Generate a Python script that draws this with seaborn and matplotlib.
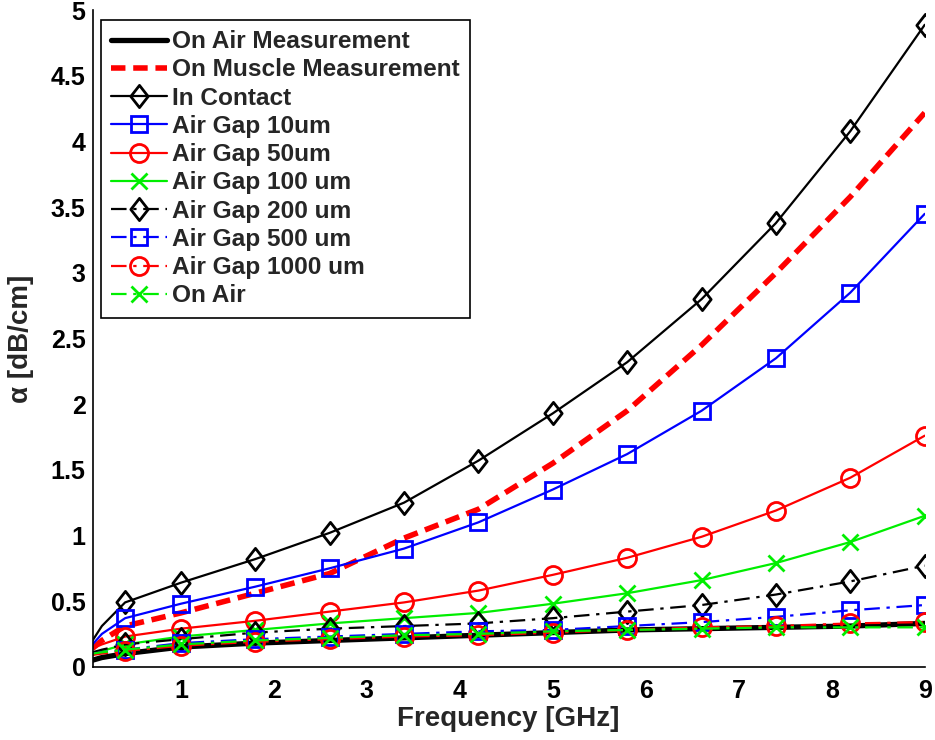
import numpy as np
import pandas as pd
import matplotlib
matplotlib.use("Agg")
import matplotlib.pyplot as plt
import seaborn as sns
from matplotlib.path import Path

# ---------------- data ----------------
freq = [0.05, 0.15, 0.4, 1.0, 1.8, 2.6, 3.4, 4.2, 5.0, 5.8, 6.6, 7.4, 8.2, 9.0]

on_air_meas = [0.05, 0.07, 0.10, 0.15, 0.18, 0.20, 0.22, 0.24, 0.26, 0.28, 0.29, 0.30, 0.31, 0.33]
on_muscle_meas = [0.14, 0.20, 0.31, 0.41, 0.56, 0.71, 0.98, 1.20, 1.55, 1.95, 2.45, 3.00, 3.58, 4.22]
in_contact = [0.20, 0.31, 0.49, 0.64, 0.82, 1.02, 1.25, 1.57, 1.93, 2.32, 2.80, 3.38, 4.08, 4.89]
gap_10 = [0.17, 0.25, 0.37, 0.48, 0.61, 0.75, 0.90, 1.10, 1.35, 1.62, 1.95, 2.35, 2.85, 3.45]
gap_50 = [0.14, 0.17, 0.23, 0.29, 0.35, 0.42, 0.49, 0.58, 0.70, 0.83, 0.99, 1.19, 1.44, 1.76]
gap_100 = [0.09, 0.12, 0.17, 0.23, 0.28, 0.33, 0.37, 0.41, 0.48, 0.56, 0.66, 0.79, 0.95, 1.15]
gap_200 = [0.11, 0.13, 0.17, 0.21, 0.26, 0.29, 0.31, 0.33, 0.37, 0.42, 0.47, 0.55, 0.65, 0.77]
gap_500 = [0.10, 0.11, 0.13, 0.18, 0.21, 0.23, 0.25, 0.27, 0.28, 0.31, 0.34, 0.38, 0.43, 0.47]
gap_1000 = [0.09, 0.10, 0.12, 0.16, 0.19, 0.21, 0.23, 0.24, 0.26, 0.28, 0.30, 0.31, 0.33, 0.34]
on_air = [0.10, 0.11, 0.13, 0.17, 0.20, 0.22, 0.24, 0.25, 0.27, 0.28, 0.29, 0.30, 0.30, 0.30]

labels = ["On Air Measurement", "On Muscle Measurement", "In Contact",
          "Air Gap 10um", "Air Gap 50um", "Air Gap 100 um", "Air Gap 200 um",
          "Air Gap 500 um", "Air Gap 1000 um", "On Air"]
x_ticks = [1, 2, 3, 4, 5, 6, 7, 8, 9]
y_ticks = [0, 0.5, 1, 1.5, 2, 2.5, 3, 3.5, 4, 4.5, 5]
y_tick_labels = ["0", "0.5", "1", "1.5", "2", "2.5", "3", "3.5", "4", "4.5", "5"]

series = [on_air_meas, on_muscle_meas, in_contact, gap_10, gap_50, gap_100,
          gap_200, gap_500, gap_1000, on_air]

# ---------------- style ----------------
sns.set_theme(style="white")
plt.rcParams['font.family'] = ['Liberation Sans', 'DejaVu Sans']
plt.rcParams['font.weight'] = 'bold'

diamond = Path([(0, 1), (0.78, 0), (0, -1), (-0.78, 0), (0, 1)],
               [Path.MOVETO, Path.LINETO, Path.LINETO, Path.LINETO, Path.CLOSEPOLY])

dashdot = (0, (7, 3, 1.5, 3))
styles = [
    dict(color="black", ls="-", lw=3.8, marker=None, ms=0),
    dict(color="#ff0000", ls=(0, (2.6, 1.4)), lw=4.0, marker=None, ms=0),
    dict(color="black", ls="-", lw=1.6, marker=diamond, ms=16),
    dict(color="#0000ff", ls="-", lw=1.6, marker="s", ms=11),
    dict(color="#ff0000", ls="-", lw=1.6, marker="o", ms=13),
    dict(color="#00ee00", ls="-", lw=1.6, marker="x", ms=11),
    dict(color="black", ls=dashdot, lw=1.6, marker=diamond, ms=16),
    dict(color="#0000ff", ls=dashdot, lw=1.6, marker="s", ms=11),
    dict(color="#ff0000", ls=dashdot, lw=1.6, marker="o", ms=13),
    dict(color="#00ee00", ls=dashdot, lw=1.6, marker="x", ms=11),
]

fig = plt.figure(figsize=(9.35, 7.4), dpi=100)
ax = fig.add_axes([0.099, 0.099, 0.890, 0.887])

for vals, lab, st in zip(series, labels, styles):
    df = pd.DataFrame({"freq": freq, "alpha": vals})
    kw = dict(color=st["color"], linestyle=st["ls"], linewidth=st["lw"], label=lab)
    if st["marker"] is not None:
        kw.update(marker=st["marker"], markersize=st["ms"], markerfacecolor="none",
                  markeredgecolor=st["color"], markeredgewidth=2.0,
                  markevery=list(range(2, len(freq))))
    sns.lineplot(data=df, x="freq", y="alpha", ax=ax, sort=False,
                 estimator=None, legend=False, **kw)

ax.set_xlim(0.05, 9.0)
ax.set_ylim(0, 5)
ax.set_xticks(x_ticks)
ax.set_xticklabels([str(t) for t in x_ticks])
ax.set_yticks(y_ticks)
ax.set_yticklabels(y_tick_labels)
for lbl in ax.get_xticklabels() + ax.get_yticklabels():
    lbl.set_fontweight("bold")
    lbl.set_fontsize(18)
ax.tick_params(direction="in", length=6, width=1, colors="black")
ax.tick_params(axis="y", pad=5)
ax.tick_params(axis="x", pad=9)
for s in ["top", "right"]:
    ax.spines[s].set_visible(False)
for s in ["left", "bottom"]:
    ax.spines[s].set_color("black")
    ax.spines[s].set_linewidth(1.2)

ax.set_xlabel("Frequency [GHz]", fontsize=20, fontweight="bold", labelpad=2)
ax.set_ylabel("α [dB/cm]", fontsize=20, fontweight="bold", labelpad=12)

leg = ax.legend(loc="upper left", bbox_to_anchor=(0.004, 0.993),
                prop=dict(size=17.6, weight="bold"),
                frameon=True, fancybox=False, edgecolor="black",
                handlelength=2.3, handletextpad=0.2, labelspacing=0.215,
                borderpad=0.42, borderaxespad=0.2)
leg.get_frame().set_linewidth(1.2)
leg.get_frame().set_facecolor("white")
leg.get_frame().set_alpha(1)

fig.savefig("out.png", dpi=100, facecolor="white")
